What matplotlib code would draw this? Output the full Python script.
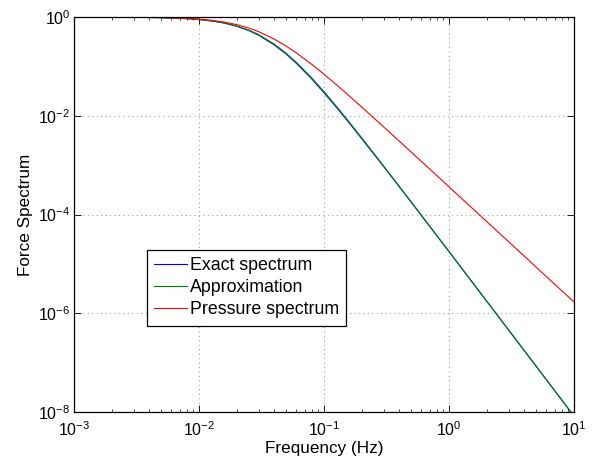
import matplotlib
matplotlib.use("Agg")
import matplotlib.pyplot as plt
from matplotlib.ticker import LogLocator, NullLocator

plt.rcParams['font.family'] = ['Liberation Sans', 'DejaVu Sans']
plt.rcParams['mathtext.fontset'] = 'custom'
plt.rcParams['mathtext.rm'] = 'Liberation Sans'
plt.rcParams['mathtext.it'] = 'Liberation Sans'

freq = [0.001, 0.002, 0.005, 0.008, 0.01, 0.013, 0.016, 0.02, 0.025, 0.03,
        0.04, 0.05, 0.06, 0.08, 0.1, 0.13, 0.16, 0.2, 0.3, 0.5, 0.7,
        1.0, 2.0, 3.0, 5.0, 10.0]

exact = [0.9988, 0.995, 0.970, 0.927, 0.888, 0.822, 0.750, 0.650, 0.531, 0.428,
         0.272, 0.176, 0.116, 0.0553, 0.0292, 0.0134, 0.00702, 0.00345, 9.35e-4,
         1.76e-4, 5.78e-5, 1.77e-5, 1.765e-6, 4.57e-7, 8.33e-8, 8.27e-9]

approx = [0.9988, 0.9953, 0.9712, 0.929, 0.892, 0.828, 0.758, 0.660, 0.543, 0.440,
          0.2833, 0.1832, 0.1213, 0.0579, 0.0308, 0.0140, 0.00732, 0.00359, 9.60e-4,
          1.778e-4, 5.82e-5, 1.777e-5, 1.766e-6, 4.57e-7, 8.33e-8, 8.27e-9]

pressure = [0.999, 0.996, 0.975, 0.938, 0.906, 0.850, 0.788, 0.702, 0.598, 0.504,
            0.357, 0.256, 0.188, 0.1093, 0.0693, 0.0395, 0.0249, 0.01507, 5.96e-3,
            1.827e-3, 8.35e-4, 3.64e-4, 7.23e-5, 2.81e-5, 8.52e-6, 1.69e-6]

labels = ["Exact spectrum", "Approximation", "Pressure spectrum"]

fig = plt.figure(figsize=(5.97, 4.59), dpi=100)
ax = fig.add_axes([74 / 597, 1 - 412 / 459, 500 / 597, 395 / 459])

ax.loglog(freq, exact, color=(0, 0, 1), lw=0.8, label=labels[0])
ax.loglog(freq, approx, color=(0, 0.5, 0), lw=0.8, label=labels[1])
ax.loglog(freq, pressure, color=(1, 0, 0), lw=0.8, label=labels[2])

ax.set_xlim(1e-3, 1e1)
ax.set_ylim(1e-8, 1e0)
ax.xaxis.set_major_locator(LogLocator(base=10, numticks=10))
ax.xaxis.set_minor_locator(LogLocator(base=10, subs=range(2, 10), numticks=20))
ax.set_yticks([1e-8, 1e-6, 1e-4, 1e-2, 1e0])
ax.yaxis.set_minor_locator(NullLocator())

ax.grid(True, which='major', color='#a0a0a0', linestyle=(0, (1, 3)), linewidth=0.8)
ax.tick_params(which='both', direction='in', top=True, right=True, labelsize=11.5)
ax.tick_params(which='major', length=5, width=0.6)
ax.tick_params(which='minor', length=2.5, width=0.5)
ax.tick_params(axis='x', which='major', pad=5.8)
ax.tick_params(axis='y', which='major', pad=2.5)
for s in ax.spines.values():
    s.set_linewidth(0.9)

ax.set_xlabel("Frequency (Hz)", fontsize=12.3, labelpad=1.5)
ax.set_ylabel("Force Spectrum", fontsize=12.3, labelpad=4)

leg = ax.legend(loc='upper left', bbox_to_anchor=(0.145, 0.41), fontsize=12.8,
                fancybox=False, edgecolor='black', framealpha=1,
                handlelength=1.9, handletextpad=0.15, labelspacing=0.29,
                borderaxespad=0, borderpad=0.4)
leg.get_frame().set_linewidth(0.9)

fig.savefig("out.png", dpi=100)
